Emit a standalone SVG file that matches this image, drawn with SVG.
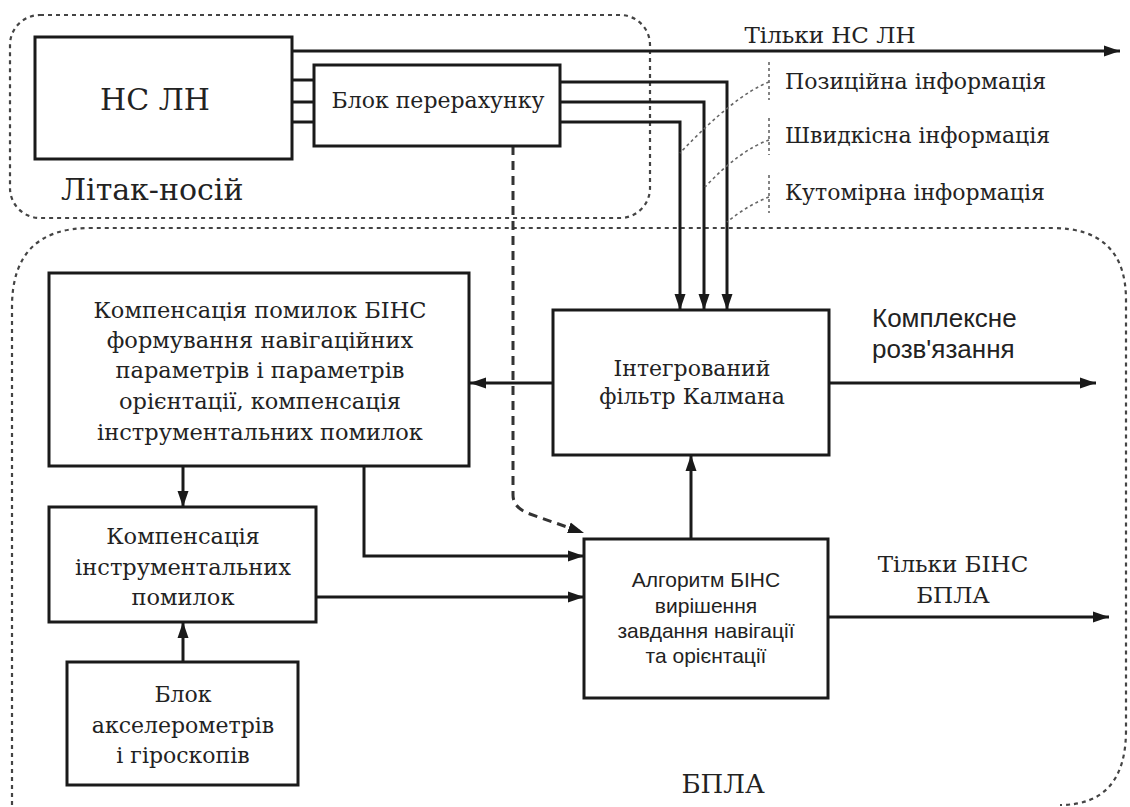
<svg xmlns="http://www.w3.org/2000/svg" width="1130" height="807" viewBox="0 0 1130 807">
<style>
.box{fill:#fff;stroke:#1a1a1a;stroke-width:3}
.ln{fill:none;stroke:#1a1a1a;stroke-width:3}
.dash{fill:none;stroke:#333;stroke-width:3;stroke-dasharray:9 6}
.region{fill:none;stroke:#444;stroke-width:2.2;stroke-dasharray:4 4}
.lead{fill:none;stroke:#666;stroke-width:1.6;stroke-dasharray:3 3}
.sf{font-family:'DejaVu Serif','Liberation Serif',serif;fill:#222}
.ss{font-family:'Liberation Sans',Arial,sans-serif;fill:#222}
</style>
<defs>
<marker id="ah" markerUnits="userSpaceOnUse" markerWidth="18" markerHeight="14" refX="16" refY="7" orient="auto">
<path d="M0,1.5 L16,7 L0,12.5 Z" fill="#1a1a1a"/>
</marker>
</defs>
<rect width="1130" height="807" fill="#fff"/>

<g id="region-litak">
<rect class="region" x="10" y="15" width="640" height="203" rx="30" ry="30"/>
<text class="sf" x="61" y="200" font-size="30">Літак-носій</text>
</g>
<g id="region-bpla">
<path class="region" d="M12,805 L12,307 Q12,228 90,228 L1052,228 Q1126,228 1126,300 L1126,730 Q1126,805 1060,805"/>
<text class="sf" x="723" y="793" font-size="26" text-anchor="middle">БПЛА</text>
</g>

<g id="connectors">
<line class="ln" x1="292" y1="51" x2="1120" y2="51" marker-end="url(#ah)"/>
<line class="ln" x1="292" y1="80" x2="314" y2="80"/>
<line class="ln" x1="292" y1="102" x2="314" y2="102"/>
<line class="ln" x1="292" y1="122" x2="314" y2="122"/>
<polyline class="ln" points="560,82 727,82 727,310" marker-end="url(#ah)"/>
<polyline class="ln" points="560,102 704,102 704,310" marker-end="url(#ah)"/>
<polyline class="ln" points="560,122 680,122 680,310" marker-end="url(#ah)"/>
<line class="ln" x1="553" y1="383" x2="470" y2="383" marker-end="url(#ah)"/>
<line class="ln" x1="829" y1="383" x2="1096" y2="383" marker-end="url(#ah)"/>
<line class="ln" x1="691" y1="539" x2="691" y2="455" marker-end="url(#ah)"/>
<line class="ln" x1="183" y1="466" x2="183" y2="507" marker-end="url(#ah)"/>
<polyline class="ln" points="364,466 364,556 584,556" marker-end="url(#ah)"/>
<line class="ln" x1="316" y1="597" x2="584" y2="597" marker-end="url(#ah)"/>
<line class="ln" x1="183" y1="662" x2="183" y2="622" marker-end="url(#ah)"/>
<line class="ln" x1="828" y1="617" x2="1109" y2="617" marker-end="url(#ah)"/>
<path class="dash" d="M513,146 L513,495 Q513,508 530,514 L584,533" marker-end="url(#ah)"/>
<path class="lead" d="M769,62 L769,100 M769,82 Q735,95 680,153"/>
<path class="lead" d="M769,118 L769,155 M769,140 Q740,150 705,187"/>
<path class="lead" d="M769,175 L769,213 M769,197 Q748,205 727,222"/>
</g>

<g id="ns-ln">
<rect class="box" x="35" y="37" width="257" height="122"/>
<text class="sf" x="155" y="110" font-size="30" text-anchor="middle">НС ЛН</text>
</g>
<g id="blok-pererakhunku">
<rect class="box" x="314" y="65" width="246" height="81"/>
<text class="sf" x="438" y="108" font-size="22" text-anchor="middle">Блок перерахунку</text>
</g>
<g id="kalman">
<rect class="box" x="553" y="310" width="276" height="145"/>
<g class="sf" font-size="22" text-anchor="middle">
<text x="692" y="376">Інтегрований</text>
<text x="692" y="404">фільтр Калмана</text>
</g>
</g>
<g id="kompensatsiia-pomylok">
<rect class="box" x="49" y="273" width="420" height="193"/>
<g class="sf" font-size="22.5" text-anchor="middle">
<text x="260" y="318">Компенсація помилок БІНС</text>
<text x="260" y="348">формування навігаційних</text>
<text x="260" y="378">параметрів і параметрів</text>
<text x="260" y="409">орієнтації, компенсація</text>
<text x="260" y="440">інструментальних помилок</text>
</g>
</g>
<g id="kompensatsiia-instr">
<rect class="box" x="49" y="507" width="267" height="115"/>
<g class="sf" font-size="22.5" text-anchor="middle">
<text x="183" y="544">Компенсація</text>
<text x="183" y="575">інструментальних</text>
<text x="183" y="605">помилок</text>
</g>
</g>
<g id="blok-akselerometriv">
<rect class="box" x="67" y="662" width="231" height="123"/>
<g class="sf" font-size="22" text-anchor="middle">
<text x="183" y="702">Блок</text>
<text x="183" y="733">акселерометрів</text>
<text x="183" y="763">і гіроскопів</text>
</g>
</g>
<g id="algorytm">
<rect class="box" x="584" y="539" width="244" height="159"/>
<g class="ss" font-size="21" text-anchor="middle">
<text x="706" y="587">Алгоритм БІНС</text>
<text x="706" y="613">вирішення</text>
<text x="706" y="638">завдання навігації</text>
<text x="706" y="663">та орієнтації</text>
</g>
</g>

<g id="labels">
<g class="sf">
<text x="830" y="43" font-size="23" text-anchor="middle">Тільки НС ЛН</text>
<text x="785" y="89" font-size="22">Позиційна інформація</text>
<text x="785" y="143" font-size="22">Швидкісна інформація</text>
<text x="785" y="200" font-size="22">Кутомірна інформація</text>
<text x="953" y="572" font-size="23" text-anchor="middle">Тільки БІНС</text>
<text x="953" y="603" font-size="23" text-anchor="middle">БПЛА</text>
</g>
<text class="ss" x="872" y="327" font-size="26">Комплексне</text>
<text class="ss" x="872" y="358" font-size="26">розв'язання</text>
</g>
</svg>
